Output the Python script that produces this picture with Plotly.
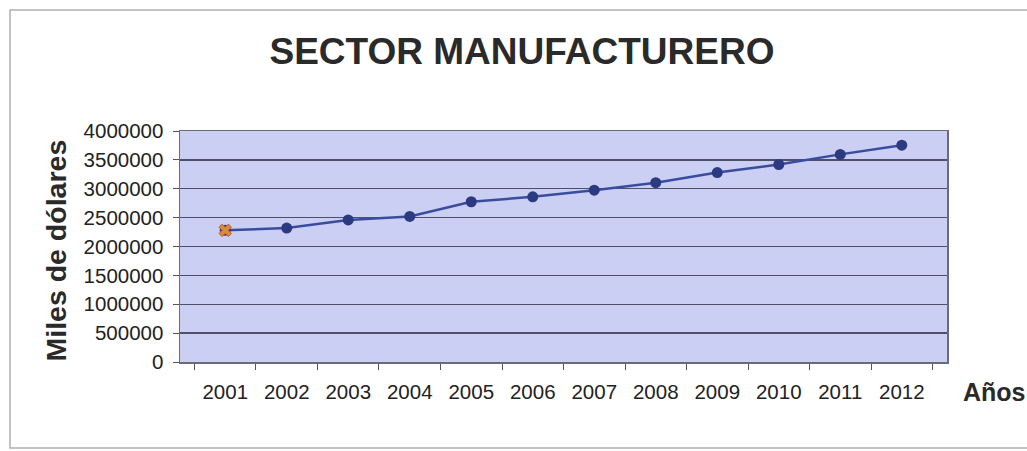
import plotly.graph_objects as go

years = ["2001", "2002", "2003", "2004", "2005", "2006",
         "2007", "2008", "2009", "2010", "2011", "2012"]
values = [2280000, 2320000, 2460000, 2520000, 2775000, 2860000,
          2975000, 3105000, 3280000, 3420000, 3595000, 3755000]
# second (single-point) series visible only at 2001
second_years = ["2001"]
second_values = [2280000]

title_text = "SECTOR MANUFACTURERO"
y_title = "Miles de dólares"
x_title = "Años"

FONT = "Liberation Sans, Arial, sans-serif"

W, H = 1027, 451
L, R, T, B = 180, 80, 131, 89
pw = W - L - R
ph = H - T - B

def px_x(x):
    return (x - L) / pw

def px_y(y):
    return (H - B - y) / ph

fig = go.Figure()
fig.add_trace(go.Scatter(
    x=years, y=values, mode="lines+markers",
    line=dict(color="#3A4C9E", width=2.5),
    marker=dict(color="#2C3A82", size=11, symbol="circle"),
    showlegend=False,
))
fig.add_trace(go.Scatter(
    x=second_years, y=second_values, mode="markers",
    marker=dict(color="#D98A3C", size=11, symbol="x",
                line=dict(width=1, color="#B8602A")),
    showlegend=False,
))

fig.update_layout(
    width=W, height=H, autosize=False,
    margin=dict(l=L, r=R, t=T, b=B, pad=0),
    paper_bgcolor="white",
    plot_bgcolor="#CBCFF3",
    font=dict(family=FONT, size=20.5, color="#222222"),
    title=dict(text=f"<b>{title_text}</b>", x=522 / W, xanchor="center",
               y=1 - 51 / H, yanchor="middle",
               font=dict(family=FONT, size=37, color="#2a2a2a")),
    xaxis=dict(
        type="category", categoryorder="array", categoryarray=years,
        showgrid=False, tickson="boundaries", ticks="outside", ticklen=6,
        tickcolor="#555555", showline=True, linecolor="#6a6a7a", linewidth=1.5,
        mirror=True, ticklabelstandoff=11,
        tickfont=dict(family=FONT, size=20.5, color="#222222"),
        zeroline=False, fixedrange=True,
    ),
    yaxis=dict(
        range=[0, 4000000], tickmode="linear", tick0=0, dtick=500000,
        tickformat="d", showgrid=True, gridcolor="#4E5068", gridwidth=1.3,
        ticks="outside", ticklen=6, tickcolor="#555555",
        showline=True, linecolor="#6a6a7a", linewidth=1.5, mirror=True,
        ticklabelstandoff=5, zeroline=False,
        tickfont=dict(family=FONT, size=20.5, color="#222222"),
        fixedrange=True,
    ),
    annotations=[
        dict(text=f"<b>{y_title}</b>", xref="paper", yref="paper",
             x=px_x(55), y=px_y(250.5), textangle=-90, showarrow=False,
             xanchor="center", yanchor="middle",
             font=dict(family=FONT, size=28.5, color="#2a2a2a")),
        dict(text=f"<b>{x_title}</b>", xref="paper", yref="paper",
             x=px_x(994), y=px_y(392), showarrow=False,
             xanchor="center", yanchor="middle",
             font=dict(family=FONT, size=25, color="#2a2a2a")),
    ],
    shapes=[
        dict(type="rect", xref="paper", yref="paper",
             x0=px_x(10), x1=px_x(1040), y0=px_y(448), y1=px_y(10),
             line=dict(color="#B0B0B0", width=1.5), fillcolor="rgba(0,0,0,0)",
             layer="below"),
    ],
)

fig.write_html(
    "out.html",
    config={"displayModeBar": False, "staticPlot": True},
    post_script="document.body.style.margin='0';document.body.style.overflow='hidden';",
)
